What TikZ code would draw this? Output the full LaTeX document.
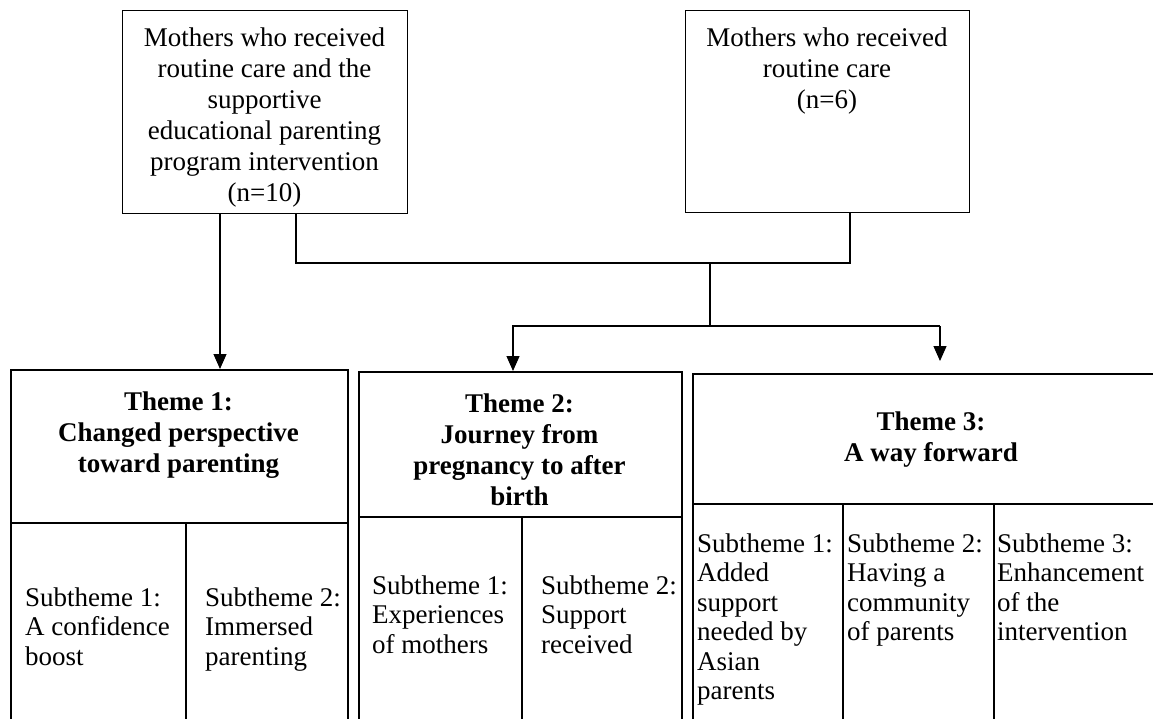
\documentclass[tikz,border=0pt]{standalone}
\usepackage{fontspec}
\setmainfont{Liberation Serif}
\usetikzlibrary{arrows.meta}
\begin{document}
\begin{tikzpicture}[x=1pt,y=-1pt,
  topbox/.style={draw, line width=1.4pt, inner sep=0pt, anchor=north west},
  themebox/.style={draw, line width=2.4pt, inner sep=0pt, anchor=north west},
  conn/.style={line width=1.2pt},
  arr/.style={line width=1.2pt, -{Triangle[width=13pt,length=15pt]}},
  divline/.style={line width=1.4pt},
  txt/.style={font=\fontsize{27}{31}\selectfont, align=center, inner sep=0pt, anchor=north},
  ttl/.style={font=\bfseries\fontsize{27}{31}\selectfont, align=center, inner sep=0pt, anchor=north},
  sub/.style={font=\fontsize{27}{29.5}\selectfont, align=left, inner sep=0pt, anchor=north west}]
\useasboundingbox (0,0) rectangle (1153,718);
\clip (0,0) rectangle (1153,718);
\fill[white] (0,0) rectangle (1153,718);

% top boxes
\node[topbox, minimum width=285pt, minimum height=203pt] (g1) at (122,10) {};
\node[topbox, minimum width=284pt, minimum height=202pt] (g2) at (685,10) {};
\node[txt] (g1t) at (264.5,27.5) {Mothers who received\\routine care and the\\supportive\\educational parenting\\program intervention\\(n=10)};
\node[txt] (g2t) at (827,27.5) {Mothers who received\\routine care\\(n=6)};

% theme boxes
\node[themebox, minimum width=337pt, minimum height=361pt] (t1) at (10,369) {};
\node[themebox, minimum width=323pt, minimum height=359pt] (t2) at (358,371) {};
\node[themebox, minimum width=508pt, minimum height=357pt] (t3) at (692,373) {};

% dividers
\coordinate (d1) at (0,523);
\coordinate (d2) at (0,517);
\coordinate (d3) at (0,504);
\draw[divline] (t1.west |- d1) -- (t1.east |- d1);
\draw[divline] (t2.west |- d2) -- (t2.east |- d2);
\draw[divline] (t3.west |- d3) -- (t3.east |- d3);
\coordinate (c1) at (186,523);
\coordinate (c2) at (522,517);
\coordinate (c3) at (843,504);
\coordinate (c4) at (994,504);
\draw[conn] (c1) -- (c1 |- t1.south);
\draw[conn] (c2) -- (c2 |- t2.south);
\draw[conn] (c3) -- (c3 |- t3.south);
\draw[conn] (c4) -- (c4 |- t3.south);

% theme titles
\node[ttl] (h1) at (178.5,391.5) {Theme 1:\\Changed perspective\\toward parenting};
\node[ttl] (h2) at (519.5,393.5) {Theme 2:\\Journey from\\pregnancy to after\\birth};
\node[ttl] (h3) at (931,411.5) {Theme 3:\\A way forward};

% subthemes
\node[sub] (s11) at (25,587.5) {Subtheme 1:\\A confidence\\boost};
\node[sub] (s12) at (205,587.5) {Subtheme 2:\\Immersed\\parenting};
\node[sub] (s21) at (372,575.5) {Subtheme 1:\\Experiences\\of mothers};
\node[sub] (s22) at (541,575.5) {Subtheme 2:\\Support\\received};
\node[sub] (s31) at (697,533.5) {Subtheme 1:\\Added\\support\\needed by\\Asian\\parents};
\node[sub] (s32) at (847,533.5) {Subtheme 2:\\Having a\\community\\of parents};
\node[sub] (s33) at (997,533.5) {Subtheme 3:\\Enhancement\\of the\\intervention};

% connectors
\coordinate (a1) at (220,0);
\coordinate (j1) at (296,263);
\coordinate (j2) at (850,263);
\coordinate (m1) at (710,263);
\coordinate (m2) at (710,326);
\coordinate (k1) at (513,326);
\coordinate (k2) at (940,326);
\coordinate (tip3) at (940,361);
\draw[arr] (g1.south -| a1) -- (t1.north -| a1);
\draw[conn] (g1.south -| j1) -- (j1) -- (j2) -- (g2.south -| j2);
\draw[conn] (m1) -- (m2);
\draw[arr] (k2) -- (k1) -- (t2.north -| k1);
\draw[arr] (k2) -- (tip3);
\end{tikzpicture}
\end{document}
